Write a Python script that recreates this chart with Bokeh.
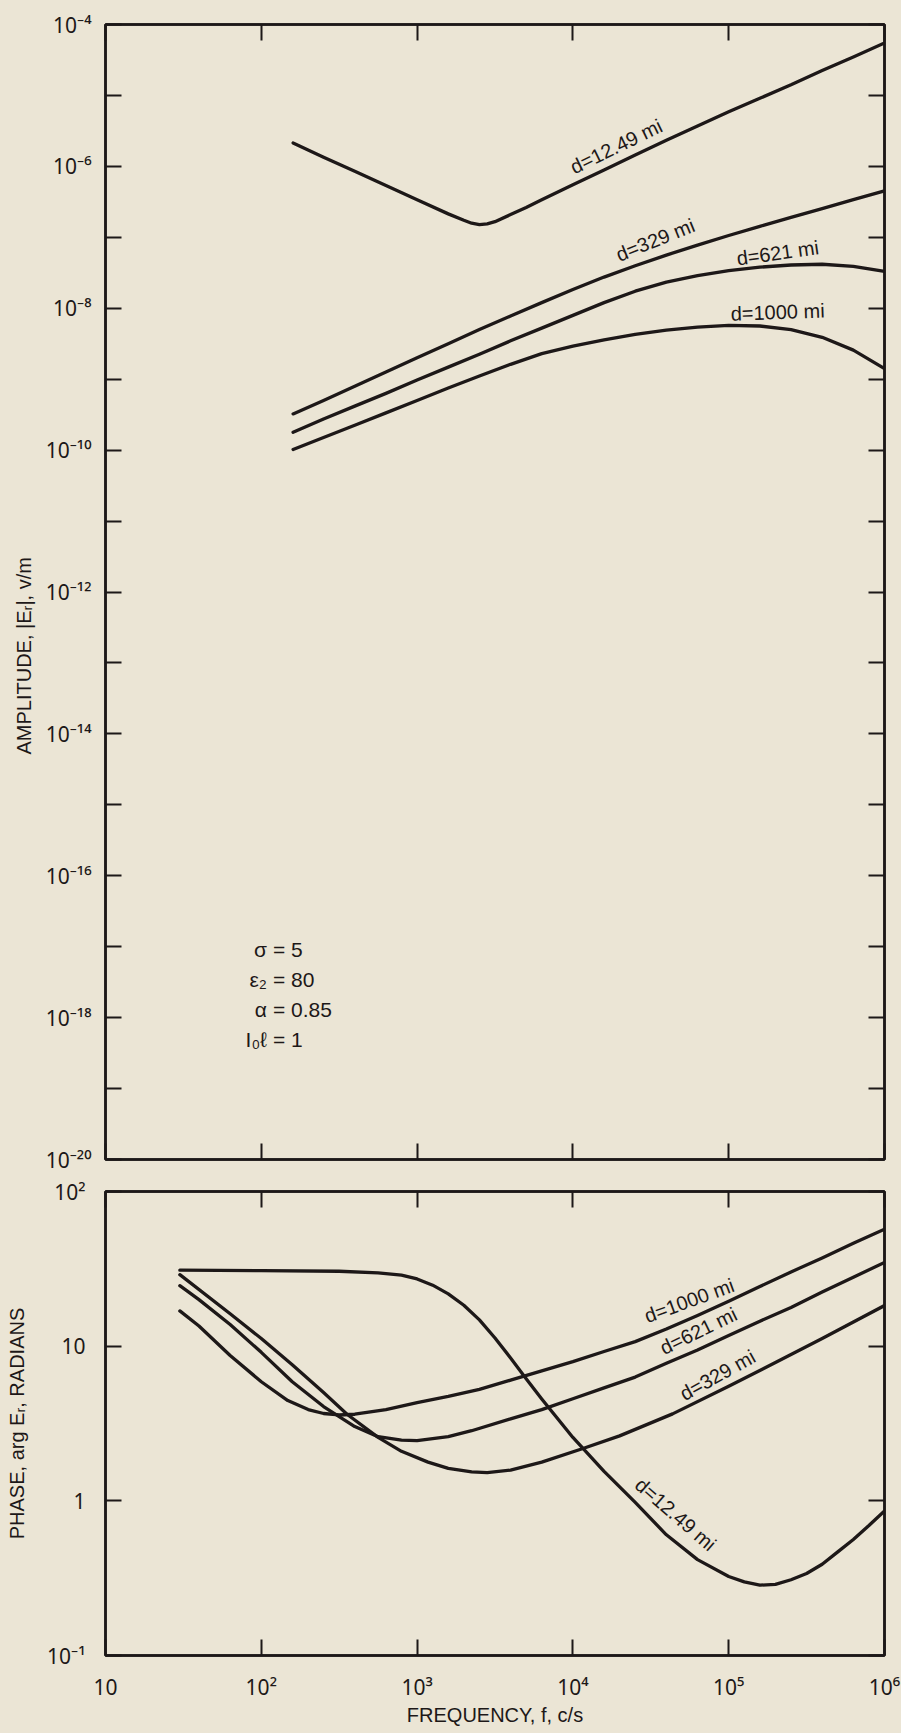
import math
import numpy as np
from bokeh.plotting import figure
from bokeh.layouts import column
from bokeh.models import FixedTicker, LogAxis, CustomJSTickFormatter, Title, Range1d
from bokeh.core.properties import value
from bokeh.embed import file_html
from bokeh.resources import INLINE

FONT = "Liberation Sans"
TICK_FONT = "Noto Sans"
PAPER = "#ebe5d5"
INK = "#1d1818"

# ---------------- amplitude |E_r| (v/m) against frequency (c/s) ----------------
amp_freq_1249 = [160, 251, 398, 631, 1000, 1585, 1995, 2239, 2512, 2818, 3162, 3981, 5012, 6310,
                 10000, 15850, 25120, 39810, 63100, 100000, 158500, 251200, 398100, 631000, 1000000]
amp_1249 = [2.14e-6, 1.35e-6, 8.51e-7, 5.37e-7, 3.39e-7, 2.14e-7, 1.74e-7, 1.58e-7, 1.51e-7, 1.55e-7,
            1.66e-7, 2.09e-7, 2.63e-7, 3.39e-7, 5.50e-7, 8.91e-7, 1.45e-6, 2.34e-6, 3.72e-6, 5.89e-6,
            9.12e-6, 1.41e-5, 2.24e-5, 3.47e-5, 5.50e-5]

amp_freq = [160, 251, 398, 631, 1000, 1585, 2512, 3981, 6310, 10000, 15850, 25120, 39810, 63100,
            100000, 158500, 251200, 398100, 631000, 1000000]
amp_329 = [3.24e-10, 5.01e-10, 7.94e-10, 1.26e-9, 2.00e-9, 3.16e-9, 5.01e-9, 7.76e-9, 1.20e-8, 1.84e-8,
           2.75e-8, 3.98e-8, 5.62e-8, 7.76e-8, 1.06e-7, 1.43e-7, 1.91e-7, 2.54e-7, 3.39e-7, 4.52e-7]
amp_621 = [1.78e-10, 2.75e-10, 4.17e-10, 6.31e-10, 9.77e-10, 1.48e-9, 2.24e-9, 3.47e-9, 5.25e-9, 7.94e-9,
           1.20e-8, 1.74e-8, 2.34e-8, 2.88e-8, 3.39e-8, 3.80e-8, 4.07e-8, 4.17e-8, 3.89e-8, 3.31e-8]
amp_1000 = [1.02e-10, 1.51e-10, 2.24e-10, 3.35e-10, 5.01e-10, 7.50e-10, 1.11e-9, 1.62e-9, 2.29e-9, 2.92e-9,
            3.59e-9, 4.27e-9, 4.90e-9, 5.43e-9, 5.75e-9, 5.62e-9, 5.01e-9, 3.89e-9, 2.57e-9, 1.41e-9]

# ---------------- phase, arg E_r (radians) against frequency (c/s) ----------------
ph_freq_1249 = [30, 100, 316, 562, 794, 1000, 1259, 1585, 1995, 2512, 3162, 3981, 5012, 6310, 10000,
                15850, 25120, 39810, 63100, 100000, 125900, 158500, 199500, 251200, 316200, 398100,
                501200, 631000, 794300, 1000000]
ph_1249 = [31.0, 30.8, 30.5, 29.8, 28.8, 27.2, 24.8, 21.8, 18.4, 14.8, 11.3, 8.39, 6.15, 4.56, 2.57,
           1.55, 0.977, 0.603, 0.417, 0.324, 0.299, 0.285, 0.288, 0.309, 0.339, 0.389, 0.468, 0.562,
           0.692, 0.861]

ph_freq_329 = [30, 63.1, 100, 158, 251, 355, 562, 794, 1175, 1585, 2239, 2818, 3981, 6310, 11480,
               19950, 43650, 100000, 199500, 398100, 1000000]
ph_329 = [29.0, 16.2, 11.2, 7.59, 5.01, 3.63, 2.57, 2.09, 1.78, 1.62, 1.54, 1.52, 1.58, 1.78, 2.17,
          2.63, 3.65, 5.50, 7.85, 11.2, 18.3]

ph_freq_621 = [30, 39.8, 63.1, 100, 158, 251, 398, 562, 794, 1000, 1585, 2239, 3981, 6310, 10000,
               15850, 25120, 39810, 63100, 100000, 158500, 251200, 398100, 631000, 1000000]
ph_621 = [24.6, 20.0, 13.8, 9.12, 5.89, 4.07, 3.02, 2.60, 2.47, 2.45, 2.60, 2.84, 3.39, 3.89, 4.57,
          5.37, 6.31, 7.76, 9.44, 11.7, 14.5, 17.8, 22.4, 27.9, 34.8]

ph_freq_1000 = [30, 39.8, 63.1, 100, 148, 200, 251, 316, 398, 631, 1000, 1585, 2512, 3981, 6310, 10000,
                15850, 25120, 39810, 63100, 100000, 158500, 251200, 398100, 631000, 1000000]
ph_1000 = [16.9, 13.5, 8.71, 5.89, 4.45, 3.89, 3.67, 3.59, 3.63, 3.89, 4.32, 4.73, 5.25, 6.03, 6.92,
           7.94, 9.23, 10.7, 12.9, 15.8, 19.5, 24.3, 30.2, 37.2, 46.2, 57.1]

curve_names = ["d=12.49 mi", "d=329 mi", "d=621 mi", "d=1000 mi"]

# ground constants printed on the amplitude panel
param_symbols = ["\u03c3", "\u03b5\u2082", "\u03b1", "I\u2080\u2113"]
param_values = ["= 5", "= 80", "= 0.85", "= 1"]

# where each curve label sits: frequency along the curve, text angle (deg), distance off the curve (px)
amp_label_freq = [21000, 37300, 212000, 208000]
amp_label_angle = [26, 22, 8, 2]
amp_label_gap = [16, 18, 13, 16]
ph_label_freq = [37300, 94400, 71400, 60800]
ph_label_angle = [-41, 29, 26, 20]
ph_label_gap = [21, 15, 17, 17]

DECADES_X = [10.0 ** k for k in range(1, 7)]

sup_formatter = CustomJSTickFormatter(code="""
const sup = {"-": "\u207b", "0": "\u2070", "1": "\u00b9", "2": "\u00b2", "3": "\u00b3",
             "4": "\u2074", "5": "\u2075", "6": "\u2076", "7": "\u2077", "8": "\u2078", "9": "\u2079"};
const e = Math.round(Math.log10(tick));
if (e === 0) return "1";
if (e === 1) return "10";
return "10" + String(e).split("").map(c => sup[c]).join("");
""")

blank_formatter = CustomJSTickFormatter(code="return '';")


def style_axis(ax, ticks, minor=(), labels=False, standoff=12):
    ax.ticker = FixedTicker(ticks=list(ticks), minor_ticks=list(minor))
    ax.major_tick_in = 16
    ax.major_tick_out = 0
    ax.minor_tick_in = 16
    ax.minor_tick_out = 0
    ax.major_tick_line_color = INK
    ax.major_tick_line_width = 2
    ax.minor_tick_line_color = INK
    ax.minor_tick_line_width = 2
    ax.axis_line_color = INK
    ax.axis_line_width = 2.5
    if labels:
        ax.formatter = sup_formatter
        ax.major_label_text_font = TICK_FONT
        ax.major_label_text_font_size = "21px"
        ax.major_label_text_color = INK
        ax.major_label_standoff = standoff
    else:
        ax.formatter = blank_formatter
        ax.major_label_text_font_size = "2px"
        ax.major_label_standoff = 0


def make_fig(y_range, frame_h, top, bottom):
    p = figure(frame_width=779, frame_height=frame_h, x_axis_type="log", y_axis_type="log",
               x_range=Range1d(10, 1e6), y_range=y_range,
               output_backend="svg", toolbar_location=None,
               min_border_left=105, min_border_right=17, min_border_top=top, min_border_bottom=bottom,
               background_fill_color=PAPER, border_fill_color=PAPER,
               outline_line_color=INK, outline_line_width=2.5)
    p.xgrid.grid_line_color = None
    p.ygrid.grid_line_color = None
    p.add_layout(LogAxis(), "right")
    p.add_layout(LogAxis(), "above")
    return p


def add_curve_labels(p, series, names, freqs, angles, gaps):
    for (fx, fy), name, f_at, ang_deg, gap in zip(series, names, freqs, angles, gaps):
        y_at = 10 ** np.interp(np.log10(f_at), np.log10(fx), np.log10(fy))
        a = math.radians(ang_deg)
        p.text(x=[f_at], y=[y_at], text=[name], angle=a,
               x_offset=-gap * math.sin(a), y_offset=-gap * math.cos(a),
               text_align="center", text_baseline="middle",
               text_font=value(FONT), text_font_size="20px", text_color=INK)


# ======================= amplitude panel =======================
p1 = make_fig(Range1d(1e-20, 1e-4), 1135, 24, 16)
amp_major = [10.0 ** k for k in range(-20, -3, 2)]
amp_minor = [10.0 ** k for k in range(-19, -4, 2)]
amp_all = [10.0 ** k for k in range(-20, -3)]
style_axis(p1.left[0], amp_major, amp_minor, labels=True, standoff=14)
style_axis(p1.right[0], amp_all)
style_axis(p1.below[0], DECADES_X)
style_axis(p1.above[0], DECADES_X)

amp_series = [(amp_freq_1249, amp_1249), (amp_freq, amp_329), (amp_freq, amp_621), (amp_freq, amp_1000)]
for fx, fy in amp_series:
    p1.line(fx, fy, line_width=3.3, line_color=INK, line_join="round", line_cap="round")

add_curve_labels(p1, amp_series, curve_names, amp_label_freq, amp_label_angle, amp_label_gap)

# parameter block, '=' signs aligned
p1.text(x=[117] * 4, y=[1e-17] * 4, text=param_symbols, x_offset=-5, y_offset=[3, 33, 63, 93],
        text_align="right", text_baseline="middle", text_font=value(FONT),
        text_font_size="21px", text_color=INK)
p1.text(x=[117] * 4, y=[1e-17] * 4, text=param_values, x_offset=1, y_offset=[3, 33, 63, 93],
        text_align="left", text_baseline="middle", text_font=value(FONT),
        text_font_size="21px", text_color=INK)

# vertical title of the amplitude axis, started part way up from the bottom of the panel
p1.add_layout(Title(text="AMPLITUDE, |E\u1d63|, v/m", align="left", offset=405, standoff=16,
                    text_font=FONT, text_font_size="20px", text_font_style="normal",
                    text_color=INK), "left")

# ======================= phase panel =======================
p2 = make_fig(Range1d(0.1, 100), 464, 16, 78)
style_axis(p2.left[0], [0.1, 1, 10, 100], labels=True, standoff=20)
style_axis(p2.right[0], [0.1, 1, 10, 100])
style_axis(p2.below[0], DECADES_X, labels=True, standoff=17)
style_axis(p2.above[0], DECADES_X)

p2.left[0].axis_label = "PHASE, arg E\u1d63, RADIANS"
p2.below[0].axis_label = "FREQUENCY, f, c/s"
for ax in (p2.left[0], p2.below[0]):
    ax.axis_label_text_font = FONT
    ax.axis_label_text_font_size = "20px"
    ax.axis_label_text_font_style = "normal"
    ax.axis_label_text_color = INK
p2.left[0].axis_label_standoff = 16
p2.below[0].axis_label_standoff = 0

ph_series = [(ph_freq_1249, ph_1249), (ph_freq_329, ph_329), (ph_freq_621, ph_621), (ph_freq_1000, ph_1000)]
for fx, fy in ph_series:
    p2.line(fx, fy, line_width=3.3, line_color=INK, line_join="round", line_cap="round")

add_curve_labels(p2, ph_series, curve_names, ph_label_freq, ph_label_angle, ph_label_gap)

layout = column(p1, p2, spacing=0, styles={"background-color": PAPER})
open("out.html", "w").write(file_html(layout, INLINE))
